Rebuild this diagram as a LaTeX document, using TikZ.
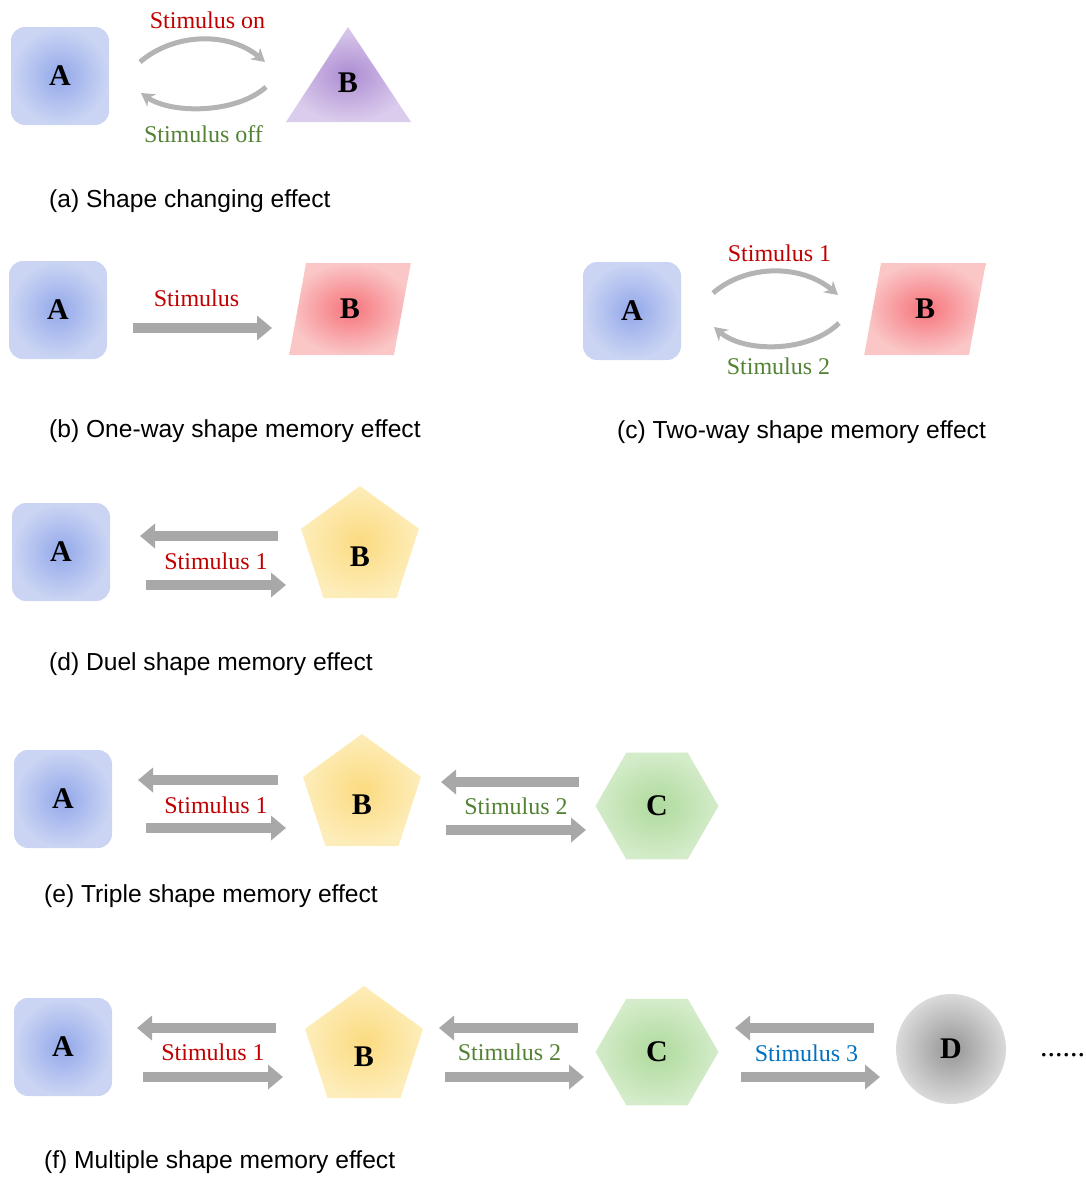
\documentclass[tikz,border=0pt]{standalone}
\usepackage{fontspec}
\setmainfont{Liberation Serif}
\setsansfont{Liberation Sans}
\usetikzlibrary{positioning,calc,arrows.meta,shapes.geometric}
\definecolor{stimred}{HTML}{C00000}
\definecolor{stimgreen}{HTML}{548235}
\definecolor{stimblue}{HTML}{0070C0}
\definecolor{arrowgray}{HTML}{A8A8A8}
\definecolor{curvegray}{HTML}{B4B4B4}
\definecolor{blueIn}{HTML}{93A8EA}
\definecolor{blueOut}{HTML}{CBD5F3}
\definecolor{purpleIn}{HTML}{AD8CD2}
\definecolor{purpleOut}{HTML}{DACCEC}
\definecolor{redIn}{HTML}{F6747C}
\definecolor{redOut}{HTML}{FAC6C6}
\definecolor{yellowIn}{HTML}{FCDB80}
\definecolor{yellowOut}{HTML}{FDEDBA}
\definecolor{greenIn}{HTML}{AEDA9C}
\definecolor{greenOut}{HTML}{D4ECCA}
\definecolor{grayIn}{HTML}{959595}
\definecolor{grayOut}{HTML}{DADADA}
\tikzset{>=stealth,
  letter/.style={font=\fontsize{30}{30}\selectfont\bfseries},
  sqA/.style={letter,rounded corners=14pt,minimum width=98pt,minimum height=98pt,
    inner color=blueIn,outer color=blueOut},
  parB/.style={letter,trapezium,trapezium left angle=79,trapezium right angle=101,
    trapezium stretches=true,minimum width=122pt,minimum height=92pt,
    inner color=redIn,outer color=redOut},
  pentB/.style={letter,regular polygon,regular polygon sides=5,minimum size=124pt,
    text height=36pt,text depth=0pt,inner color=yellowIn,outer color=yellowOut},
  hexC/.style={letter,regular polygon,regular polygon sides=6,minimum size=123pt,
    inner color=greenIn,outer color=greenOut},
  circD/.style={letter,circle,minimum size=110pt,inner color=grayIn,outer color=grayOut},
  fatarrow/.style={draw=arrowgray,line width=10pt,-{Triangle[length=15pt,width=24pt]}},
  curvearrow/.style={draw=curvegray,line width=5pt,-{Stealth[length=13pt,width=15pt]}},
  stimlabel/.style={inner sep=2pt,font=\fontsize{24}{28}\selectfont},
  caption/.style={anchor=west,inner sep=0pt,font=\sffamily\fontsize{24.6}{28}\selectfont}
}

\begin{document}
\begin{tikzpicture}[x=1pt,y=-1pt]
\useasboundingbox (0,0) rectangle (1085,1178);
% (a)
\begin{scope}
\node[sqA] (A) at (60,76) {A};
\shade[inner color=purpleIn,outer color=purpleOut] (286,122) -- (348,27) -- (411,122) -- cycle;
\node[letter] (B) at (348,83) {B};
\draw[curvearrow] ([shift={(80,-14)}]A.center) .. controls +(35,-30) and +(-35,-30) .. ([shift={(-83,-21)}]B.center)
  node[stimlabel,midway,above=6pt,xshift=5pt,text=stimred] {Stimulus on};
\draw[curvearrow] ([shift={(-82,4)}]B.center) .. controls +(-30,27) and +(30,21) .. ([shift={(81,17)}]A.center)
  node[stimlabel,midway,below=13pt,text=stimgreen] {Stimulus off};
\node[caption] (capa) at (49,201) {(a) Shape changing effect};
\end{scope}
% (b)
\begin{scope}
\node[sqA] (A) at (58,310) {A};
\node[parB] (B) at (350,309) {B};
\draw[fatarrow] ([shift={(75,18)}]A.center) -- ([shift={(-78,19)}]B.center)
  node[stimlabel,midway,above=14pt,xshift=-6pt,text=stimred] {Stimulus};
\node[caption] (capb) at (49,431) {(b) One-way shape memory effect};
\end{scope}
% (c)
\begin{scope}
\node[sqA] (A) at (632,311) {A};
\node[parB] (B) at (925,309) {B};
\draw[curvearrow] ([shift={(81,-18)}]A.center) .. controls +(35,-30) and +(-35,-30) .. ([shift={(-87,-14)}]B.center)
  node[stimlabel,midway,above=5pt,xshift=4pt,text=stimred] {Stimulus 1};
\draw[curvearrow] ([shift={(-86,14)}]B.center) .. controls +(-30,30) and +(30,26) .. ([shift={(82,16)}]A.center)
  node[stimlabel,midway,below=7pt,xshift=2pt,text=stimgreen] {Stimulus 2};
\node[caption] (capc) at (617,432) {(c) Two-way shape memory effect};
\end{scope}
% (d)
\begin{scope}
\node[sqA] (A) at (61,552) {A};
\node[pentB] (B) at (360,548) {B};
\draw[fatarrow] ([shift={(-82,-12)}]B.center) -- ([shift={(79,-16)}]A.center);
\draw[fatarrow] ([shift={(85,33)}]A.center) -- ([shift={(-74,37)}]B.center)
  node[stimlabel,midway,above=8pt,text=stimred] {Stimulus 1};
\node[caption] (capd) at (49,664) {(d) Duel shape memory effect};
\end{scope}
% (e)
\begin{scope}
\node[sqA] (A) at (63,799) {A};
\node[pentB] (B) at (362,796) {B};
\node[hexC] (C) at (657,806) {C};
\draw[fatarrow] ([shift={(-84,-16)}]B.center) -- ([shift={(75,-19)}]A.center);
\draw[fatarrow] ([shift={(83,29)}]A.center) -- ([shift={(-76,32)}]B.center)
  node[stimlabel,midway,above=7pt,text=stimred] {Stimulus 1};
\draw[fatarrow] ([shift={(-78,-24)}]C.center) -- ([shift={(79,-14)}]B.center);
\draw[fatarrow] ([shift={(84,34)}]B.center) -- ([shift={(-71,24)}]C.center)
  node[stimlabel,midway,above=8pt,text=stimgreen] {Stimulus 2};
\node[caption] (cape) at (44,896) {(e) Triple shape memory effect};
\end{scope}
% (f)
\begin{scope}
\node[sqA] (A) at (63,1047) {A};
\node[pentB] (B) at (364,1048) {B};
\node[hexC] (C) at (657,1052) {C};
\node[circD] (D) at (951,1049) {D};
\draw[fatarrow] ([shift={(-88,-20)}]B.center) -- ([shift={(74,-19)}]A.center);
\draw[fatarrow] ([shift={(80,30)}]A.center) -- ([shift={(-81,29)}]B.center)
  node[stimlabel,midway,above=9pt,text=stimred] {Stimulus 1};
\draw[fatarrow] ([shift={(-79,-24)}]C.center) -- ([shift={(75,-20)}]B.center);
\draw[fatarrow] ([shift={(81,29)}]B.center) -- ([shift={(-73,25)}]C.center)
  node[stimlabel,midway,above=9pt,xshift=-5pt,text=stimgreen] {Stimulus 2};
\draw[fatarrow] ([shift={(-77,-21)}]D.center) -- ([shift={(78,-24)}]C.center);
\draw[fatarrow] ([shift={(84,25)}]C.center) -- ([shift={(-71,28)}]D.center)
  node[stimlabel,midway,above=8pt,xshift=-4pt,text=stimblue] {Stimulus 3};
\node[anchor=base west,inner sep=0pt,font=\fontsize{30}{30}\selectfont] (dots) at (1040,1056) {......};
\node[caption] (capf) at (44,1162) {(f) Multiple shape memory effect};
\end{scope}
\end{tikzpicture}
\end{document}
